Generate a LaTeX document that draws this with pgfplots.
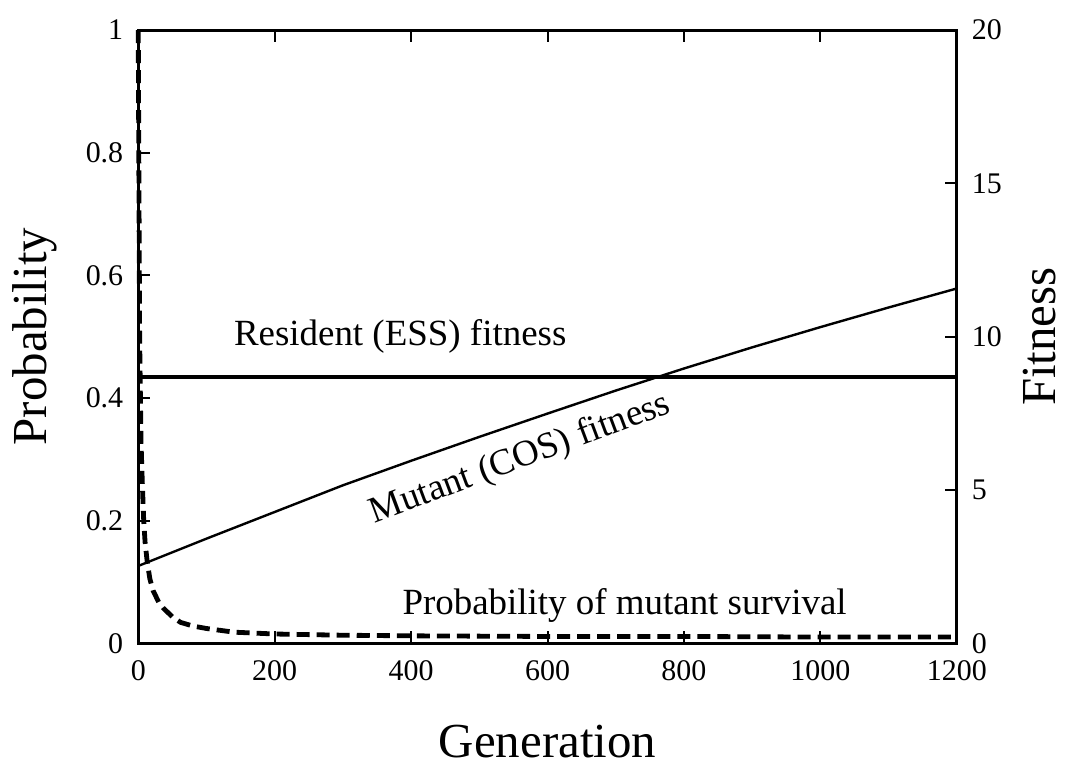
\documentclass[border=0pt]{standalone}
\usepackage{pgfplots}
\pgfplotsset{compat=1.18}
\usepackage{fontspec}
\setmainfont{Liberation Serif}
\begin{document}
\begin{tikzpicture}
\begin{axis}[
  name=a,
  scale only axis, width=408.5bp, height=306bp,
  xmin=0, xmax=1200, ymin=0, ymax=1,
  xtick={0,200,...,1200}, ytick={0,0.2,0.4,0.6,0.8,1},
  yticklabels={0,0.2,0.4,0.6,0.8,1},
  xtick pos=both, ytick pos=left, tick align=inside,
  major tick length=6bp,
  axis line style={line width=1.5bp}, tick style={line width=1bp, black},
  /pgf/number format/assume math mode=true,
  /pgf/number format/1000 sep={},
  ticklabel style={font=\fontsize{15}{16}\selectfont},
  xticklabel style={yshift=-5bp},
  yticklabel style={xshift=-4bp},
  xlabel={Generation}, ylabel={Probability},
  label style={font=\fontsize{24.5}{28}\selectfont},
  xlabel style={at={(axis description cs:0.5,-0.16)}, anchor=center},
  ylabel style={at={(axis description cs:-0.126,0.5)}, anchor=center},
  clip=false,
]
\addplot[black, line width=2.4bp, dash pattern=on 6.5bp off 3.5bp] coordinates {
(0,1) (1,0.75) (2,0.5) (4,0.33) (6,0.26) (8,0.2) (10,0.165) (13,0.134) (17,0.105)
(22,0.085) (30,0.067) (37,0.057) (50,0.043) (62,0.034) (80,0.028) (100,0.024)
(140,0.018) (200,0.015) (300,0.013) (400,0.012) (600,0.011) (800,0.011) (1000,0.01) (1200,0.01)};
\node[font=\fontsize{18.5}{20}\selectfont] at (axis cs:384,0.50) {Resident (ESS) fitness};
\node[font=\fontsize{18.5}{20}\selectfont, rotate=20.5] at (axis cs:560,0.300) {Mutant (COS) fitness};
\node[font=\fontsize{18.5}{20}\selectfont] at (axis cs:713,0.062) {Probability of mutant survival};
\end{axis}
\begin{axis}[
  scale only axis, width=408.5bp, height=306bp,
  xmin=0, xmax=1200, ymin=0, ymax=20,
  axis y line*=right, axis x line=none,
  ytick={0,5,10,15,20}, ytick pos=right, tick align=inside,
  major tick length=6bp,
  axis line style={line width=1.5bp}, tick style={line width=1bp, black},
  /pgf/number format/assume math mode=true,
  ticklabel style={font=\fontsize{15}{16}\selectfont},
  yticklabel style={xshift=4bp},
  ylabel={Fitness},
  label style={font=\fontsize{24.5}{28}\selectfont},
  ylabel style={at={(axis description cs:1.1016,0.5)}, anchor=center},
]
\addplot[black, line width=2bp] coordinates {(0,8.69) (1200,8.69)};
\addplot[black, line width=1.2bp] coordinates {
(0,2.52) (100,3.41) (200,4.28) (300,5.15) (400,5.95) (500,6.73) (600,7.49)
(700,8.24) (800,8.96) (900,9.65) (1000,10.31) (1100,10.95) (1200,11.57)};
\end{axis}
\pgfresetboundingbox
\path[use as bounding box] ([shift={(-69bp,-61bp)}]a.south west) rectangle ([shift={(56.5bp,15bp)}]a.north east);
\end{tikzpicture}
\end{document}
